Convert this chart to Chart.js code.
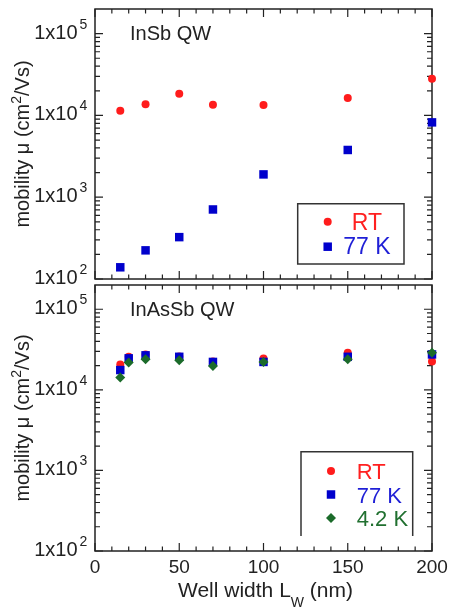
<!DOCTYPE html>
<html>
<head>
<meta charset="utf-8">
<script src="https://cdn.jsdelivr.net/npm/chart.js@4.4.1/dist/chart.umd.min.js"></script>
<style>
html, body { margin: 0; padding: 0; background: #fff; }
#wrap { position: relative; width: 449px; height: 609px; overflow: hidden; }
canvas { position: absolute; left: 0; }
#top { top: 0; }
#bottom { top: 279px; }
</style>
</head>
<body>
<div id="wrap">
  <canvas id="top" width="449" height="300"></canvas>
  <canvas id="bottom" width="449" height="330"></canvas>
</div>
<script>
// InSb QW panel
const insbWidths = [15, 30, 50, 70, 100, 150, 200];
const insbRT = [11400, 13700, 18400, 13500, 13400, 16300, 28000];
const insb77K = [139, 224, 325, 708, 1900, 3780, 8220];

// InAsSb QW panel
const inassbWidths = [15, 20, 30, 50, 70, 100, 150, 200];
const inassbRT = [20700, 25700, 27500, 26000, 22400, 24400, 28800, 22400];
const inassb77K = [17600, 24600, 26800, 25700, 22200, 22200, 25700, 27500];
const inassb42K = [14200, 21800, 23900, 23300, 19800, 22200, 24000, 28800];

// axis ticks
const xTickLabels = [0, 50, 100, 150, 200];
const yDecades = [2, 3, 4, 5];

const FONT = '"Liberation Sans", Arial, sans-serif';
const RED = '#ff1c1c';
const BLUE = '#0000cc';
const GREEN = '#1b6b2a';

const toPoints = (widths, values) => widths.map((w, i) => ({ x: w, y: values[i] }));

// frame, inward ticks and all the text of a panel
const framePlugin = {
    id: 'frame',
    beforeDatasetsDraw(chart, args, opts) {
        const { ctx, chartArea: a } = chart;
        const x = chart.scales.x, y = chart.scales.y;
        ctx.save();
        ctx.strokeStyle = '#222';
        ctx.lineWidth = 1.5;
        ctx.strokeRect(a.left, a.top, a.right - a.left, a.bottom - a.top);
        ctx.lineWidth = 1.2;
        ctx.beginPath();
        for (let v = 0; v <= 200; v += 10) {
            const px = x.getPixelForValue(v);
            const len = v % 50 === 0 ? 8 : 4.5;
            ctx.moveTo(px, a.bottom); ctx.lineTo(px, a.bottom - len);
            ctx.moveTo(px, a.top); ctx.lineTo(px, a.top + len);
        }
        yDecades.forEach(d => {
            for (let m = 1; m <= 9; m++) {
                const v = m * Math.pow(10, d);
                if (v >= y.max) break;
                const py = y.getPixelForValue(v);
                const len = m === 1 ? 8 : 5;
                ctx.moveTo(a.left, py); ctx.lineTo(a.left + len, py);
                ctx.moveTo(a.right, py); ctx.lineTo(a.right - len, py);
            }
        });
        ctx.stroke();
        ctx.restore();
    },
    afterDraw(chart, args, opts) {
        const { ctx, chartArea: a } = chart;
        const x = chart.scales.x, y = chart.scales.y;
        ctx.save();
        ctx.fillStyle = '#222';

        // y tick labels 1x10^n
        yDecades.forEach(d => {
            const py = y.getPixelForValue(Math.pow(10, d));
            ctx.font = '20px ' + FONT;
            ctx.textAlign = 'right';
            ctx.textBaseline = 'alphabetic';
            ctx.fillText('1x10', a.left - 17.5, py + 5);
            ctx.font = '14px ' + FONT;
            ctx.textAlign = 'left';
            ctx.fillText(String(d), a.left - 15.5, py - 5);
        });

        // y title
        ctx.save();
        ctx.translate(28.5, (a.top + a.bottom) / 2);
        ctx.rotate(-Math.PI / 2);
        const parts = [
            { t: 'mobility \u03bc (cm', f: '20px ', dy: 0 },
            { t: '2', f: '14px ', dy: -8 },
            { t: '/Vs)', f: '20px ', dy: 0 }
        ];
        let total = 0;
        parts.forEach(p => { ctx.font = p.f + FONT; p.w = ctx.measureText(p.t).width; total += p.w; });
        let cx = -total / 2;
        ctx.textAlign = 'left';
        parts.forEach(p => { ctx.font = p.f + FONT; ctx.fillText(p.t, cx, p.dy); cx += p.w; });
        ctx.restore();

        // panel label
        ctx.font = '20px ' + FONT;
        ctx.textAlign = 'left';
        ctx.fillText(opts.label, 130, a.top + 31);

        // x tick labels and title (bottom panel only)
        if (opts.xLabels) {
            ctx.font = '19px ' + FONT;
            ctx.textAlign = 'center';
            xTickLabels.forEach(v => ctx.fillText(String(v), x.getPixelForValue(v), a.bottom + 21.5));
            const tparts = [
                { t: 'Well width L', f: '21px ', dy: 0 },
                { t: 'W', f: '14px ', dy: 10 },
                { t: ' (nm)', f: '21px ', dy: 0 }
            ];
            let tw = 0;
            tparts.forEach(p => { ctx.font = p.f + FONT; p.w = ctx.measureText(p.t).width; tw += p.w; });
            let tx = 265.5 - tw / 2;
            ctx.textAlign = 'left';
            tparts.forEach(p => { ctx.font = p.f + FONT; ctx.fillText(p.t, tx, a.bottom + 45.5 + p.dy); tx += p.w; });
        }

        // legend box
        const lg = opts.legend;
        const [x0, y0, x1, y1] = lg.box;
        ctx.strokeStyle = '#333';
        ctx.lineWidth = 1.5;
        ctx.beginPath();
        if (lg.openBottom) {
            ctx.moveTo(x0, y1); ctx.lineTo(x0, y0); ctx.lineTo(x1, y0); ctx.lineTo(x1, y1);
        } else {
            ctx.rect(x0, y0, x1 - x0, y1 - y0);
        }
        ctx.stroke();
        lg.items.forEach(it => {
            const ds = chart.data.datasets[it.ds];
            ctx.fillStyle = ds.backgroundColor;
            ctx.strokeStyle = ds.backgroundColor;
            Chart.helpers.drawPoint(ctx, { pointStyle: ds.pointStyle, radius: ds.pointRadius, rotation: 0, borderWidth: 0 }, it.mx, it.my);
            ctx.fillStyle = it.color;
            ctx.font = lg.font + 'px ' + FONT;
            ctx.textAlign = 'left';
            ctx.fillText(ds.label, it.tx, it.ty);
        });
        ctx.restore();
    }
};

const makeDataset = (label, widths, values, color, style, radius, order) => ({
    label: label,
    data: toPoints(widths, values),
    backgroundColor: color,
    borderColor: color,
    borderWidth: 0,
    pointStyle: style,
    pointRadius: radius,
    showLine: false,
    clip: false,
    order: order
});

const makePanel = (id, datasets, padding, frameOpts) => {
    return new Chart(document.getElementById(id), {
        type: 'scatter',
        data: { datasets: datasets },
        options: {
            responsive: false,
            animation: false,
            layout: { padding: padding },
            plugins: {
                legend: { display: false },
                tooltip: { enabled: false },
                frame: frameOpts
            },
            scales: {
                x: {
                    type: 'linear', min: 0, max: 200,
                    grid: { display: false }, border: { display: false },
                    ticks: { display: false },
                    afterFit: s => { s.height = 0; }
                },
                y: {
                    type: 'logarithmic', min: 100, max: 200000,
                    grid: { display: false }, border: { display: false },
                    ticks: { display: false },
                    afterFit: s => { s.width = 95; }
                }
            }
        },
        plugins: [framePlugin]
    });
};

makePanel('top', [
    makeDataset('RT', insbWidths, insbRT, RED, 'circle', 4, 2),
    makeDataset('77 K', insbWidths, insb77K, BLUE, 'rect', 6, 1)
], { left: 0, top: 9, right: 17, bottom: 21 }, {
    label: 'InSb QW',
    xLabels: false,
    legend: {
        box: [297.7, 203.7, 404, 264], openBottom: false, font: 23,
        items: [
            { ds: 0, mx: 327.7, my: 221.7, tx: 351.7, ty: 230, color: '#ff2020' },
            { ds: 1, mx: 327.7, my: 246.7, tx: 343.3, ty: 254, color: '#1f1fd6' }
        ]
    }
});

makePanel('bottom', [
    makeDataset('RT', inassbWidths, inassbRT, RED, 'circle', 4, 3),
    makeDataset('77 K', inassbWidths, inassb77K, BLUE, 'rect', 6, 2),
    makeDataset('4.2 K', inassbWidths, inassb42K, GREEN, 'rectRot', 5, 1)
], { left: 0, top: 0, right: 17, bottom: 58 }, {
    label: 'InAsSb QW',
    xLabels: true,
    legend: {
        box: [301, 172.7, 412.7, 257], openBottom: true, font: 22,
        items: [
            { ds: 0, mx: 331, my: 192, tx: 356.7, ty: 200.3, color: '#ff2020' },
            { ds: 1, mx: 331, my: 215.5, tx: 356.7, ty: 223.7, color: '#1f1fd6' },
            { ds: 2, mx: 331, my: 239, tx: 356.7, ty: 247, color: '#217030' }
        ]
    }
});
</script>
</body>
</html>
